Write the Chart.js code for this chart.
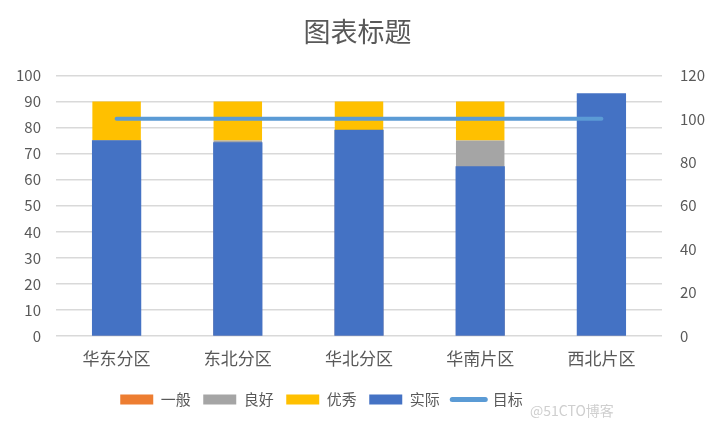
<!DOCTYPE html>
<html>
<head>
<meta charset="utf-8">
<script src="https://cdn.jsdelivr.net/npm/chart.js@4"></script>
<style>
  html, body { margin: 0; padding: 0; background: #fff; }
  #wrap { position: relative; width: 717px; height: 428px; }
  #mark { position: absolute; left: 530px; top: 400px; font: 14px "Noto Sans CJK SC", sans-serif; color: #cfcfcf; }
</style>
</head>
<body>
<div id="wrap">
  <canvas id="myChart"></canvas>
  <div id="mark">@51CTO博客</div>
</div>
<script>
// 数据
const regions = ['华东分区', '东北分区', '华北分区', '华南片区', '西北片区'];
const normal = [60, 60, 60, 60, 60];     // 一般
const good = [15, 15, 15, 15, 15];       // 良好
const excellent = [15, 15, 15, 15, 15];  // 优秀
const actual = [75, 74.2, 79, 65, 93];   // 实际
const target = [100, 100, 100, 100, 100]; // 目标 (右轴)

const font = '"Noto Sans CJK SC", "Noto Sans", sans-serif';
const textColor = '#595959';

// 图例：柱子用矩形，目标用线
function legendLabels(chart) {
    const items = Chart.defaults.plugins.legend.labels.generateLabels(chart);
    return items.map(item => {
        const ds = chart.data.datasets[item.datasetIndex];
        if (ds.type === 'line') {
            item.pointStyle = 'line';
            item.lineWidth = 5;
            item.lineCap = 'round';
            item.strokeStyle = ds.borderColor;
        } else {
            item.pointStyle = 'rect';
            item.lineWidth = 0;
        }
        return item;
    });
}

// 图例整体偏左，跟原图一致
const legendShift = {
    id: 'legendShift',
    afterLayout(chart) {
        if (chart.legend) chart.legend.right -= 72;
    }
};

const ctx = document.getElementById('myChart').getContext('2d');

new Chart(ctx, {
    type: 'bar',
    data: {
        labels: regions,
        datasets: [
            { label: '一般', data: normal, backgroundColor: '#ED7D31', stack: 'range', order: 2, yAxisID: 'y', inflateAmount: 0 },
            { label: '良好', data: good, backgroundColor: '#A5A5A5', stack: 'range', order: 2, yAxisID: 'y', inflateAmount: 0 },
            { label: '优秀', data: excellent, backgroundColor: '#FFC000', stack: 'range', order: 2, yAxisID: 'y', inflateAmount: 0 },
            { label: '实际', data: actual, backgroundColor: '#4472C4', stack: 'actual', order: 1, yAxisID: 'y', inflateAmount: 0.4 },
            {
                type: 'line', label: '目标', data: target, yAxisID: 'y1', order: 0,
                borderColor: '#5B9BD5', backgroundColor: '#5B9BD5',
                borderWidth: 4, borderCapStyle: 'round', pointRadius: 0, pointHoverRadius: 0
            }
        ]
    },
    options: {
        responsive: true,
        maintainAspectRatio: false,
        animation: false,
        grouped: false,
        barPercentage: 0.4,
        categoryPercentage: 1,
        layout: { padding: { left: 10, right: 12, top: 4, bottom: 11 } },
        plugins: {
            title: {
                display: true, text: '图表标题', color: textColor,
                font: { family: font, size: 27, weight: 'normal' },
                padding: { top: 12, bottom: 27 }
            },
            legend: {
                position: 'bottom',
                labels: {
                    color: textColor, usePointStyle: true, pointStyleWidth: 33, boxHeight: 10,
                    padding: 12.5,
                    font: { family: font, size: 15 },
                    sort: (a, b) => a.datasetIndex - b.datasetIndex,
                    generateLabels: legendLabels
                }
            },
            tooltip: { enabled: false }
        },
        scales: {
            x: {
                grid: { display: false },
                border: { display: false },
                ticks: { color: textColor, font: { family: font, size: 17 }, padding: 4 },
                afterFit: (scale) => { scale.height += 7; }
            },
            y: {
                stacked: true,
                min: 0, max: 100,
                ticks: { stepSize: 10, color: textColor, font: { family: font, size: 15 }, padding: 15 },
                grid: { color: '#d9d9d9', lineWidth: 1.5, drawTicks: false },
                border: { display: false },
                afterFit: (scale) => { scale.width = 46; }
            },
            y1: {
                position: 'right',
                min: 0, max: 120,
                ticks: { stepSize: 20, color: textColor, font: { family: font, size: 15 }, padding: 18 },
                grid: { display: false, drawTicks: false },
                border: { display: false },
                afterFit: (scale) => { scale.width = 43; }
            }
        }
    },
    plugins: [legendShift]
});
</script>
</body>
</html>
